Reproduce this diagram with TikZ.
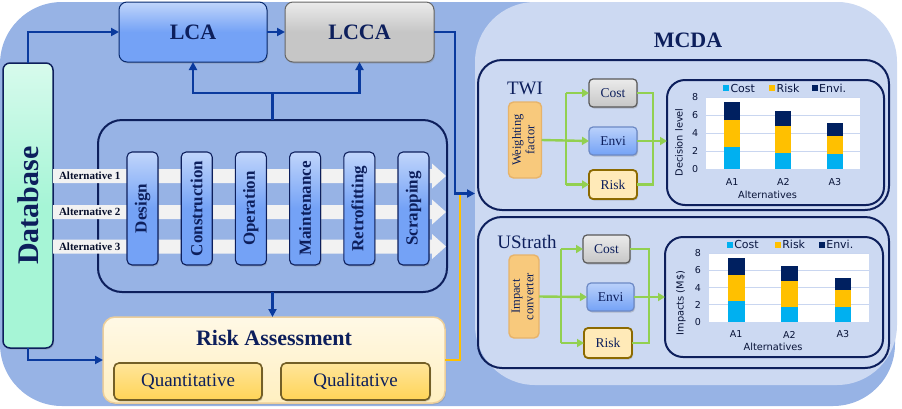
\documentclass[tikz,border=0pt]{standalone}
\usepackage{fontspec}
\setmainfont{Liberation Serif}
\newfontfamily\chartfont{DejaVu Sans}
\usetikzlibrary{shadows,arrows.meta,calc}
\definecolor{bgblue}{HTML}{97B3E5}
\definecolor{panelc}{HTML}{CCD9F2}
\definecolor{navy}{HTML}{0D1F5C}
\definecolor{arrowblue}{HTML}{0A3A9E}
\definecolor{lcac}{HTML}{74A2F6}
\definecolor{grayc}{HTML}{C6C6C6}
\definecolor{dbc}{HTML}{A6F5D6}
\definecolor{greenc}{HTML}{92D050}
\definecolor{yellowl}{HTML}{FFC000}
\definecolor{rac}{HTML}{FFEFC0}
\definecolor{qc}{HTML}{FFD457}
\definecolor{wfc}{HTML}{F8C97C}
\definecolor{riskbox}{HTML}{FFEAB8}
\definecolor{costc}{HTML}{00B0F0}
\definecolor{riskc}{HTML}{FFC000}
\definecolor{envc}{HTML}{002060}
\definecolor{gridc}{HTML}{C9D6F0}
\definecolor{bandc}{HTML}{F2F2F2}
\newcommand\fsz[1]{\fontsize{#1}{#1}\selectfont}
% #1 left x, #2 zero y, #3 px per unit, #4 width px, #5 y label, #6 y label pos, #7 prefix
\newcommand\barchart[7]{%
\pgfmathsetmacro\cwu{#4/100}%
\begin{scope}[shift={(#1,#2)}, x=\cwu pt, y=#3pt]
  \fill[white] (0,0) rectangle (100,8);
  \foreach \v in {2,4,6,8} \draw[gridc, line width=0.9pt] (0,\v) -- (100,\v);
  \foreach \xa/\c/\r/\e in {11.8/2.5/5.5/7.4, 45/1.8/4.8/6.5, 78.5/1.7/3.7/5.1}{
    \fill[costc] (\xa,0) rectangle (\xa+10.4,\c);
    \fill[riskc] (\xa,\c) rectangle (\xa+10.4,\r);
    \fill[envc] (\xa,\r) rectangle (\xa+10.4,\e);
  }
  \foreach \v in {0,2,4,6,8} \node[ticklab] (#7t\v) at (-7,\v) {\v};
  \foreach \i/\xa in {1/17,2/50.2,3/83.7} \node[ticklab] (#7a\i) at (\xa,-1.45) {A\i};
  \node[axlab] (#7x) at (40,-2.85) {Alternatives};
  \node[axlab, rotate=90] (#7y) at (-17.5,#6) {#5};
  \node[legsq, fill=costc] (#7lc) at (13,9) {};
  \node[leglab, anchor=west] (#7lct) at ([xshift=1.5pt]#7lc.east) {Cost};
  \node[legsq, fill=riskc] (#7lr) at (43,9) {};
  \node[leglab, anchor=west] (#7lrt) at ([xshift=1.5pt]#7lr.east) {Risk};
  \node[legsq, fill=envc] (#7le) at (70.5,9) {};
  \node[leglab, anchor=west] (#7let) at ([xshift=1.5pt]#7le.east) {Envi.};
\end{scope}}
\begin{document}
\begin{tikzpicture}[x=1pt,y=-1pt,
  every node/.style={inner sep=0pt, outer sep=0pt},
  shadowed/.style={drop shadow={shadow xshift=1pt,shadow yshift=-1.5pt,opacity=.35}},
  barrow/.style={draw=arrowblue, line width=2.5pt, -{Triangle[length=8pt,width=8pt]}},
  bline/.style={draw=arrowblue, line width=2.5pt},
  garrow/.style={draw=greenc, line width=2.4pt, -{Triangle[length=7pt,width=8pt]}},
  gline/.style={draw=greenc, line width=2.4pt},
  yline/.style={draw=yellowl, line width=2.2pt},
  topbox/.style={shadowed, rounded corners=8pt, line width=1pt, text=navy, font=\bfseries\fsz{22}},
  stagebox/.style={shadowed, rounded corners=5pt, draw=navy, line width=1.1pt, top color=lcac!45!white, bottom color=lcac, middle color=lcac, minimum width=31, minimum height=113, text=navy, font=\bfseries\fsz{17}},
  altlab/.style={anchor=west, text=navy!45!black, font=\bfseries\fsz{11}},
  band/.style={fill=bandc},
  frame/.style={draw=navy, line width=2pt, rounded corners=24pt},
  subtitle/.style={text=navy, font=\fsz{19}},
  smallbox/.style={shadowed, rounded corners=4pt, line width=1.2pt, text=navy, font=\fsz{13.5}, minimum width=48, minimum height=28},
  sidebox/.style={rounded corners=5pt, draw=wfc!70!brown, line width=1.4pt, fill=wfc, text=navy, minimum width=33},
  ticklab/.style={text=navy!60!black, font=\chartfont\fsz{9.5}},
  axlab/.style={text=navy!60!black, font=\chartfont\fsz{9.8}},
  leglab/.style={text=navy!70!black, font=\chartfont\fsz{11}},
  legsq/.style={minimum size=6pt},
]
\useasboundingbox (0,0) rectangle (902,408);
% backgrounds
\fill[bgblue, rounded corners=62pt] (0,2) rectangle (895,406);
\node[fill=panelc, rounded corners=60pt, minimum width=422, minimum height=383] (mcda) at (686,193.5) {};
\node[text=navy, font=\bfseries\fsz{22}] (mcdat) at (688,40) {MCDA};

% top boxes
\node[topbox, draw=arrowblue!70!black, top color=lcac!45!white, bottom color=lcac, middle color=lcac, minimum width=148, minimum height=60] (lca) at (193,32) {LCA};
\node[topbox, draw=gray!80!black, top color=grayc!35!white, bottom color=grayc, middle color=grayc, minimum width=149, minimum height=60] (lcca) at (359.5,32) {LCCA};
\draw[barrow] (lca.east) -- (lcca.west);

% database
\node[shadowed, rounded corners=7pt, draw=navy, line width=1.5pt, top color=dbc!45!white, bottom color=dbc, middle color=dbc, minimum width=50, minimum height=285, text=navy, font=\bfseries\fsz{30}] (db) at (28,205.5) {\rotatebox{90}{Database}};

% life-cycle frame
\node[frame, minimum width=349, minimum height=172] (lc) at (272.5,206) {};

% alternative bands
\foreach \i/\yy in {1/176,2/212,3/246.5}{
  \fill[band] (53,\yy-7) -- (432,\yy-7) -- (432,\yy-12.5) -- (446,\yy) -- (432,\yy+12.5) -- (432,\yy+7) -- (53,\yy+7) -- cycle;
  \node[altlab] (alt\i) at (59,\yy) {Alternative \i};
}

% stages
\node[stagebox] (s1) at (142.5,208.5) {\rotatebox{90}{Design}};
\node[stagebox] (s2) at (196.7,208.5) {\rotatebox{90}{Construction}};
\node[stagebox] (s3) at (250.9,208.5) {\rotatebox{90}{Operation}};
\node[stagebox] (s4) at (305.1,208.5) {\rotatebox{90}{Maintenance}};
\node[stagebox] (s5) at (359.3,208.5) {\rotatebox{90}{Retrofitting}};
\node[stagebox] (s6) at (413.5,208.5) {\rotatebox{90}{Scrapping}};

% risk assessment
\node[shadowed, rounded corners=12pt, draw=rac!70!brown, line width=1.5pt, top color=rac!40!white, bottom color=rac, minimum width=342, minimum height=86] (ra) at (274,360) {};
\node[text=navy, font=\bfseries\fsz{22}] (rat) at (274,338) {Risk Assessment};
\node[shadowed, rounded corners=5pt, draw=qc!45!black, line width=1.6pt, top color=qc!60!white, bottom color=qc, minimum width=148, minimum height=37, text=navy, font=\fsz{19}] (quan) at (188,381.5) {Quantitative};
\node[shadowed, rounded corners=5pt, draw=qc!45!black, line width=1.6pt, top color=qc!60!white, bottom color=qc, minimum width=149, minimum height=37, text=navy, font=\fsz{19}] (qual) at (355.5,381.5) {Qualitative};

% left connectors
\draw[barrow] (db.north) |- (lca.west);
\draw[barrow] (db.south) |- (ra.west);
\coordinate (split) at (272.5,93);
\draw[bline] (lc.north) -- (split);
\draw[barrow] (split) -| (lca.south);
\draw[barrow] (split) -| (lcca.south);
\draw[barrow] (lc.south) -- (lc.south |- ra.north);
\draw[yline] (ra.east) -| ($(mcda.west)+(-15,0)$);
\draw[barrow] (lcca.east) -| ($(mcda.west)+(-20,0)$) -- (mcda.west);

% TWI
\node[frame, minimum width=411, minimum height=150] (twi) at (683.5,135) {};
\node[subtitle] (twit) at (525,88) {TWI};
\node[sidebox, minimum height=76] (wf) at (525,140) {\rotatebox{90}{\fontsize{12.5}{13.5}\selectfont\begin{tabular}{@{}c@{}}Weighting\\factor\end{tabular}}};
\node[smallbox, draw=gray!70!black, top color=grayc!35!white, bottom color=grayc] (cost1) at (613,93) {Cost};
\node[smallbox, draw=arrowblue!60, top color=lcac!50!white, bottom color=lcac] (envi1) at (613,141) {Envi};
\node[smallbox, draw=riskc!55!black, line width=1.8pt, fill=riskbox, minimum height=29] (risk1) at (613,184.5) {Risk};
\node[draw=navy, line width=2pt, rounded corners=18pt, minimum width=217, minimum height=125] (ch1) at (775.5,142.5) {};
\coordinate (g1) at (566,140);
\coordinate (r1) at (653,140);
\draw[garrow] (wf.east) -- (envi1.west);
\draw[gline] (g1 |- cost1.west) -- (g1 |- risk1.west);
\draw[garrow] (g1 |- cost1.west) -- (cost1.west);
\draw[garrow] (g1 |- risk1.west) -- (risk1.west);
\draw[gline] (cost1.east) -| (r1) |- (risk1.east);
\draw[garrow] (envi1.east) -- (ch1.west |- envi1.east);
\barchart{706}{169}{9}{154}{Decision level}{2.95}{ca}

% UStrath
\node[frame, minimum width=411, minimum height=151] (ust) at (683.5,292.5) {};
\node[subtitle] (ustt) at (527,242) {UStrath};
\node[sidebox, minimum width=30, minimum height=83] (ic) at (524,296.5) {\rotatebox{90}{\fontsize{12.5}{13.5}\selectfont\begin{tabular}{@{}c@{}}Impact\\converter\end{tabular}}};
\node[smallbox, draw=gray!70!black, top color=grayc!35!white, bottom color=grayc, minimum width=47] (cost2) at (606.5,249) {Cost};
\node[smallbox, draw=arrowblue!60, top color=lcac!50!white, bottom color=lcac, minimum width=47] (envi2) at (610.5,297) {Envi};
\node[smallbox, draw=riskc!55!black, line width=1.8pt, fill=riskbox, minimum height=30] (risk2) at (608,343) {Risk};
\node[draw=navy, line width=2pt, rounded corners=18pt, minimum width=218, minimum height=120] (ch2) at (774,297) {};
\coordinate (g2) at (561,297);
\coordinate (r2) at (649,297);
\draw[garrow] (ic.east) -- (envi2.west);
\draw[gline] (g2 |- cost2.west) -- (g2 |- risk2.west);
\draw[garrow] (g2 |- cost2.west) -- (cost2.west);
\draw[garrow] (g2 |- risk2.west) -- (risk2.west);
\draw[gline] (cost2.east) -| (r2) |- (risk2.east);
\draw[garrow] (envi2.east) -- (ch2.west |- envi2.east);
\barchart{709}{322}{8.6}{160}{Impacts (M\$)}{2.2}{cb}
\end{tikzpicture}
\end{document}
